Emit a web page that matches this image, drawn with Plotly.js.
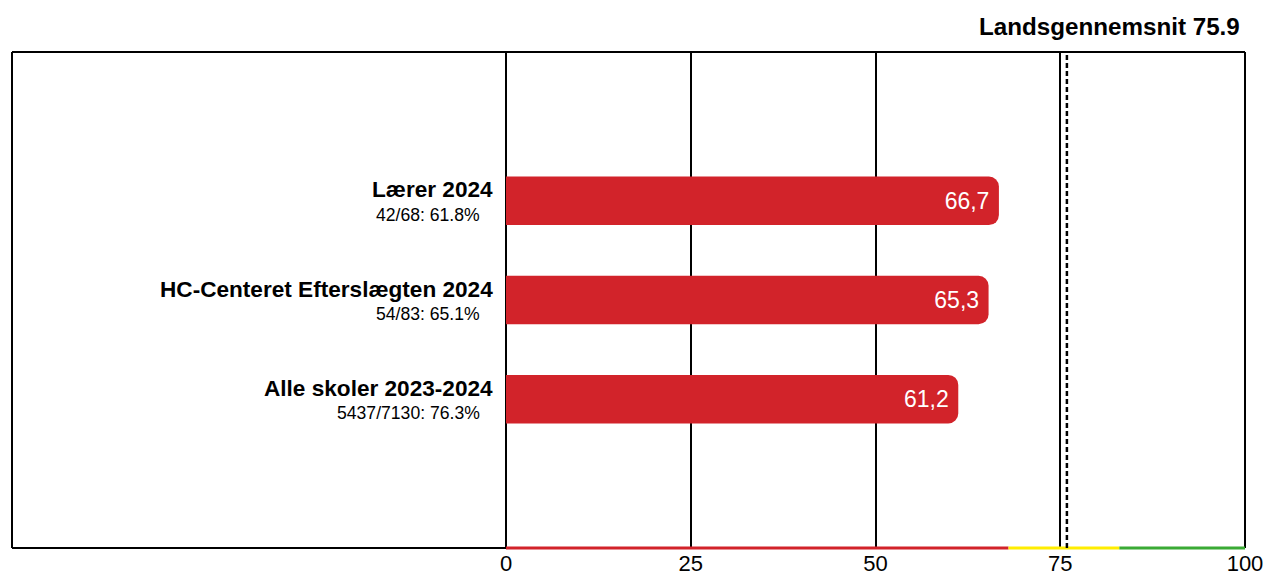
<!DOCTYPE html>
<html><head><meta charset="utf-8">
<script src="https://cdn.plot.ly/plotly-3.0.1.min.js"></script>
<style>html,body{margin:0;padding:0;background:#fff;}#chart{width:1266px;height:577px;}</style>
</head><body><div id="chart"></div>
<script>
const categories = ["Lærer 2024", "HC-Centeret Efterslægten 2024", "Alle skoler 2023-2024"];
const subLabels = ["42/68: 61.8%", "54/83: 65.1%", "5437/7130: 76.3%"];
const values = [66.7, 65.3, 61.2];
const nationalAverage = 75.9;
const titleText = "Landsgennemsnit 75.9";
const tickValues = [0, 25, 50, 75, 100];
const bandEdges = [0, 68, 83, 100];
const bandColors = ["#d2232a", "#ffed00", "#3aaa35"];

const FONT = "Liberation Sans, Arial, sans-serif";
const W = 1266, H = 577, ML = 506, MR = 21, MT = 52, MB = 29;
const PW = W - ML - MR;
const px = v => v / PW; // pixel offset to paper units

const trace = {
  type: "bar", orientation: "h",
  y: categories, x: values,
  marker: {color: "#d2232a", line: {width: 0}},
  width: 0.49,
  texttemplate: "%{x:.1f}\u00a0",
  textposition: "inside", insidetextanchor: "end",
  textfont: {color: "#ffffff", size: 23, family: FONT},
  constraintext: "none", cliponaxis: false,
  hoverinfo: "skip"
};

const shapes = [];
const line = (x0, y0, x1, y1, xref, yref, color, width, dash) =>
  shapes.push({type: "line", xref, yref, x0, y0, x1, y1, layer: "above",
    line: {color, width, dash: dash || "solid"}});
// frame
const left = px(12 - ML);
line(left, 1, 1, 1, "paper", "paper", "#000", 2);
line(left, 0, left, 1, "paper", "paper", "#000", 2);
line(1, 0, 1, 1, "paper", "paper", "#000", 2);
line(left, 0, 0, 0, "paper", "paper", "#000", 2);
// coloured bottom band
for (let i = 0; i < bandColors.length; i++) {
  line(bandEdges[i], 0, bandEdges[i + 1], 0, "x", "paper", bandColors[i], 3);
}
// national average
line(nationalAverage, 0, nationalAverage, 1, "x", "paper", "#000", 2.5, "5px,3px");

const annotations = [];
categories.forEach((c, i) => {
  annotations.push({xref: "paper", yref: "y", x: px(-11), y: c, xanchor: "right", yanchor: "middle",
    yshift: 11, showarrow: false, text: "<b>" + c + "</b>", font: {family: FONT, size: 22.6, color: "#000"}});
  annotations.push({xref: "paper", yref: "y", x: px(-24), y: c, xanchor: "right", yanchor: "middle",
    yshift: -14, showarrow: false, text: subLabels[i], font: {family: FONT, size: 17.6, color: "#000"}});
});
annotations.push({xref: "paper", yref: "paper", x: px(-3) + 1, y: 1, yshift: 26, xanchor: "right", yanchor: "middle",
  showarrow: false, text: "<b>" + titleText + "</b>", font: {family: FONT, size: 24.2, color: "#000"}});

const layout = {
  width: W, height: H,
  margin: {l: ML, r: MR, t: MT, b: MB, pad: 0},
  paper_bgcolor: "#fff", plot_bgcolor: "#fff",
  separators: ",.",
  barcornerradius: 10,
  showlegend: false,
  font: {family: FONT, color: "#000"},
  xaxis: {range: [0, 100], tickvals: tickValues, ticktext: tickValues.map(String),
    showgrid: true, gridcolor: "#000", gridwidth: 2, zeroline: true, zerolinecolor: "#000", zerolinewidth: 2,
    showline: false, ticks: "", tickfont: {size: 22, family: FONT, color: "#000"}, fixedrange: true},
  yaxis: {type: "category", range: [3.5, -1.5], showticklabels: false, showgrid: false, zeroline: false,
    showline: false, ticks: "", fixedrange: true},
  shapes, annotations
};

Plotly.newPlot("chart", [trace], layout, {displayModeBar: false, staticPlot: true});
</script></body></html>
